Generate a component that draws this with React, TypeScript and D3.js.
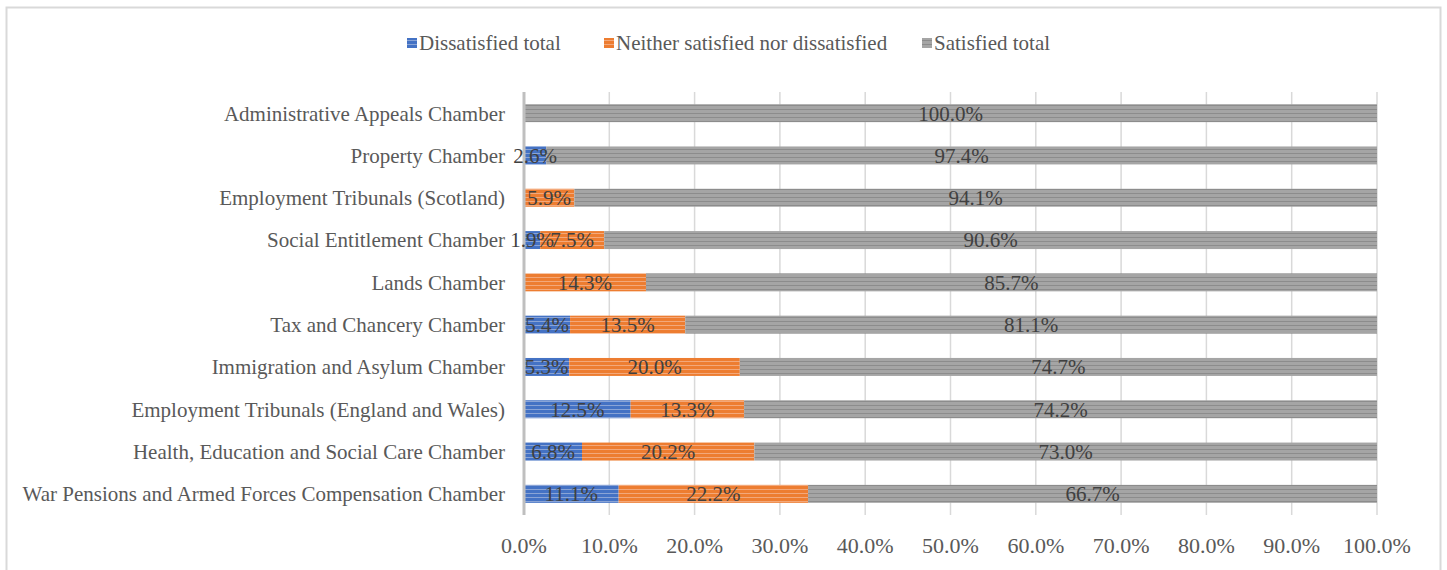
import React, { useEffect, useRef } from 'react';
import * as d3 from 'd3';

const categories: string[] = [
  'Administrative Appeals Chamber',
  'Property Chamber',
  'Employment Tribunals (Scotland)',
  'Social Entitlement Chamber',
  'Lands Chamber',
  'Tax and Chancery Chamber',
  'Immigration and Asylum Chamber',
  'Employment Tribunals (England and Wales)',
  'Health, Education and Social Care Chamber',
  'War Pensions and Armed Forces Compensation Chamber',
];

const dissatisfied: number[] = [0, 2.6, 0, 1.9, 0, 5.4, 5.3, 12.5, 6.8, 11.1];
const neither: number[] = [0, 0, 5.9, 7.5, 14.3, 13.5, 20.0, 13.3, 20.2, 22.2];
const satisfied: number[] = [100, 97.4, 94.1, 90.6, 85.7, 81.1, 74.7, 74.2, 73.0, 66.7];

const seriesNames: string[] = ['Dissatisfied total', 'Neither satisfied nor dissatisfied', 'Satisfied total'];
const tickValues: number[] = [0, 10, 20, 30, 40, 50, 60, 70, 80, 90, 100];

const FONT = '"Liberation Serif", "DejaVu Serif", serif';

const App: React.FC = () => {
  const ref = useRef<SVGSVGElement | null>(null);

  useEffect(() => {
    if (!ref.current) return;
    const width = 1447;
    const height = 570;
    const svg = d3.select(ref.current).attr('width', width).attr('height', height);
    svg.selectAll('*').remove();

    const colors = ['#4472C4', '#ED7D31', '#A5A5A5'];
    const stripes = ['#8aa4d6', '#f3a87a', '#8c8c8c'];

    const defs = svg.append('defs');
    colors.forEach((c, i) => {
      const p = defs
        .append('pattern')
        .attr('id', `pat${i}`)
        .attr('patternUnits', 'userSpaceOnUse')
        .attr('width', 8)
        .attr('height', 4);
      p.append('rect').attr('width', 8).attr('height', 4).attr('fill', c);
      p.append('rect').attr('y', 1).attr('width', 8).attr('height', 1).attr('fill', stripes[i]);
    });

    // frame
    svg
      .append('rect')
      .attr('x', 6.5)
      .attr('y', 7.5)
      .attr('width', 1434)
      .attr('height', 600)
      .attr('fill', 'white')
      .attr('stroke', '#d9d9d9')
      .attr('stroke-width', 2);

    const x = d3.scaleLinear().domain([0, 100]).range([524, 1377]);
    const y = d3.scaleBand<string>().domain(categories).range([92, 515]).paddingInner(0.575).paddingOuter(0.2875);

    // gridlines
    svg
      .append('g')
      .selectAll('line')
      .data(tickValues.slice(1))
      .enter()
      .append('line')
      .attr('x1', (d) => x(d))
      .attr('x2', (d) => x(d))
      .attr('y1', 92)
      .attr('y2', 515)
      .attr('stroke', '#d9d9d9')
      .attr('stroke-width', 1.5);

    const rows = categories.map((c, i) => ({ cat: c, vals: [dissatisfied[i], neither[i], satisfied[i]] }));
    const stack = rows.flatMap((r) => {
      let acc = 0;
      return r.vals.map((v, s) => {
        const seg = { cat: r.cat, s, x0: acc, x1: acc + v, v };
        acc += v;
        return seg;
      });
    }).filter((d) => d.v > 0);

    const bh = y.bandwidth();
    svg
      .append('g')
      .selectAll('rect')
      .data(stack)
      .enter()
      .append('rect')
      .attr('x', (d) => x(d.x0))
      .attr('width', (d) => x(d.x1) - x(d.x0))
      .attr('y', (d) => y(d.cat)!)
      .attr('height', bh)
      .attr('fill', (d) => `url(#pat${d.s})`);

    // axis line
    svg
      .append('line')
      .attr('x1', x(0))
      .attr('x2', x(0))
      .attr('y1', 92)
      .attr('y2', 515)
      .attr('stroke', '#bfbfbf')
      .attr('stroke-width', 3);

    // data labels
    svg
      .append('g')
      .selectAll('text')
      .data(stack)
      .enter()
      .append('text')
      .attr('x', (d) => x((d.x0 + d.x1) / 2))
      .attr('y', (d) => y(d.cat)! + bh / 2)
      .attr('dy', '0.35em')
      .attr('text-anchor', 'middle')
      .attr('font-family', FONT)
      .attr('font-size', 21)
      .attr('fill', '#404040')
      .text((d) => `${d.v.toFixed(1)}%`);

    // category labels
    svg
      .append('g')
      .selectAll('text')
      .data(categories)
      .enter()
      .append('text')
      .attr('x', 505)
      .attr('y', (d) => y(d)! + bh / 2)
      .attr('dy', '0.35em')
      .attr('text-anchor', 'end')
      .attr('font-family', FONT)
      .attr('font-size', 21)
      .attr('fill', '#595959')
      .text((d) => d);

    // tick labels
    svg
      .append('g')
      .selectAll('text')
      .data(tickValues)
      .enter()
      .append('text')
      .attr('x', (d) => x(d))
      .attr('y', 553)
      .attr('text-anchor', 'middle')
      .attr('font-family', FONT)
      .attr('font-size', 22)
      .attr('fill', '#595959')
      .text((d) => `${d.toFixed(1)}%`);

    // legend
    const legendX = [407, 604, 922];
    const lg = svg
      .append('g')
      .selectAll('g')
      .data(seriesNames)
      .enter()
      .append('g')
      .attr('transform', (_d, i) => `translate(${legendX[i]}, 43)`);
    lg.append('rect')
      .attr('x', 0)
      .attr('y', -5)
      .attr('width', 10)
      .attr('height', 10)
      .attr('fill', (_d, i) => `url(#pat${i})`);
    lg.append('text')
      .attr('x', 12)
      .attr('dy', '0.35em')
      .attr('font-family', FONT)
      .attr('font-size', 21)
      .attr('fill', '#595959')
      .text((d) => d);
  }, []);

  return <svg ref={ref} style={{ position: 'absolute', left: 0, top: 0 }}></svg>;
};

export default App;
